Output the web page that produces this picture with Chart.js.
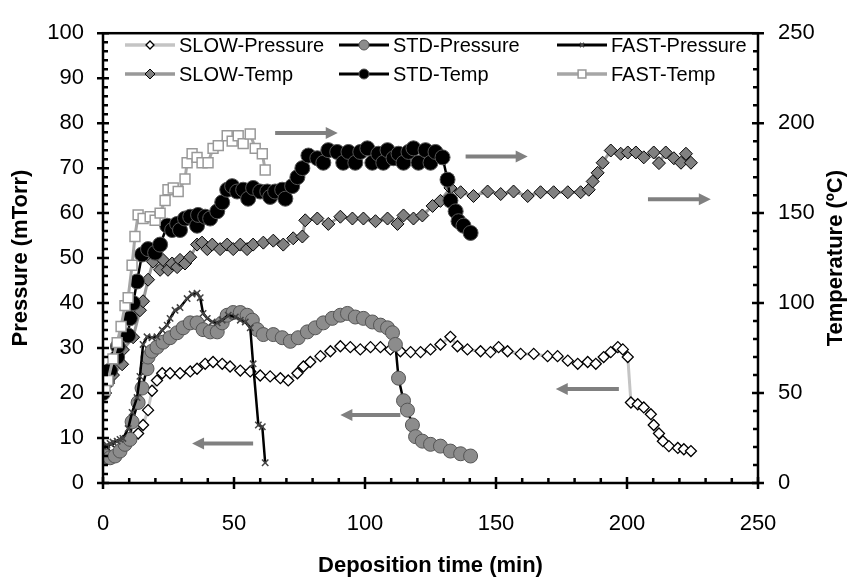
<!DOCTYPE html>
<html lang="en">
<head>
  <meta charset="UTF-8" />
  <title>Deposition pressure / temperature</title>
  <script src="https://cdn.jsdelivr.net/npm/chart.js"></script>
  <style>
    body { margin: 0; background: #fff; }
    #wrap { width: 852px; height: 580px; }
  </style>
</head>
<body>
<div id="wrap"><canvas id="depChart" width="852" height="580"></canvas></div>

<script>
  // SLOW run
  const slowPressT = [0, 1.9, 3.8, 5.7, 7.6, 10.3, 13.4, 15.3, 17.2, 18.7, 20.6, 22.6, 25.6, 29.4, 33.3, 35.9, 39, 42, 45.5, 48.5, 52.4, 56.2, 60, 63.8, 67.7, 70.7, 74.2, 76.5, 79.1, 83, 86.8, 90.6, 94.4, 98.2, 102.1, 105.9, 109.7, 113.5, 117.4, 121.2, 125, 128.8, 132.6, 135.3, 139.1, 144.1, 147.9, 151, 154.4, 159.4, 164.4, 169.7, 173.5, 177.4, 181.2, 185, 188.1, 191.1, 193.8, 196.5, 198.4, 200.3, 201.5, 204.1, 206.4, 209.1, 210.2, 212.2, 213.7, 216, 219.4, 221.7, 224.4];
  const slowPressV = [6.5, 7.1, 7.8, 8.4, 9.3, 10.1, 11, 12.9, 16.2, 20.5, 22.8, 24.4, 24.4, 24.4, 24.8, 25.4, 26.5, 26.9, 26.5, 25.9, 25, 24.8, 23.9, 23.7, 23.3, 22.8, 24.4, 25.9, 26.9, 28.2, 29.3, 30.4, 30.2, 29.7, 30.2, 30.2, 29.7, 29.3, 29.1, 29.1, 29.7, 30.8, 32.5, 30.4, 29.7, 29.3, 29.1, 30.2, 29.3, 28.7, 28.7, 28.2, 28.2, 27.2, 26.5, 26.9, 26.5, 28, 29.1, 30.2, 29.7, 28, 17.9, 17.5, 16.8, 15.3, 12.9, 11, 9.3, 8.2, 7.8, 7.5, 7.1];
  const slowTempT = [0.8, 1.9, 3.8, 7.3, 7.6, 11.5, 14.1, 15.3, 17.2, 19.1, 21.8, 22.9, 24.8, 26.4, 28.3, 29.4, 31.3, 33.3, 35.9, 37.8, 39.8, 41.7, 44.7, 47.4, 49.7, 52.4, 55, 57.3, 61.2, 65, 68.8, 72.6, 76.1, 77.2, 81.8, 86, 90.6, 95.2, 99.4, 104, 108.6, 112.4, 114.7, 118.5, 121.9, 125.8, 128.8, 132.6, 136.5, 141.4, 146.8, 151.8, 156.7, 162.1, 167, 172, 177.4, 182.3, 185.4, 186.9, 188.8, 190.7, 193.8, 197.6, 200.3, 203.4, 206.4, 210.2, 212.2, 214.8, 217.9, 220.6, 222.5, 224.4];
  const slowTempV = [50, 55.5, 60, 66, 74, 81, 96, 101, 113, 123, 118.5, 124, 118.5, 122, 120, 124, 122, 125.5, 132.5, 133.6, 130, 132.5, 130, 132.5, 130, 132.5, 130, 132.5, 133.6, 134.7, 132.5, 136, 137, 146, 147, 144, 148, 147, 147, 145.5, 147, 144, 148.7, 147, 148.7, 154, 156.8, 164, 161.6, 159.5, 162, 160.6, 162, 159.5, 161.6, 161.6, 161.6, 161.6, 163, 167.6, 172.4, 178, 184.8, 183, 183.7, 183.7, 181, 183.7, 177.8, 183.7, 180.5, 178, 183, 178];

  // STD run
  const stdPressT = [0, 0.8, 2.7, 4.6, 6.5, 8.4, 10.3, 11.1, 13.4, 14.9, 16.8, 17.2, 18.7, 20.6, 22.9, 25.6, 28.3, 30.6, 33.3, 35.9, 38.2, 40.9, 43.6, 45.5, 47.4, 49.7, 52.4, 55, 57, 58.9, 61.2, 65, 68.4, 71.5, 74.5, 78, 81, 84.1, 87.5, 90.6, 93.3, 96.3, 99.4, 102.8, 105.9, 108.6, 110.5, 111.6, 112.8, 114.7, 116.2, 118.1, 119.3, 121.9, 125, 128.8, 132.6, 136.5, 140.3];
  const stdPressV = [5.4, 6, 5.6, 6, 7.1, 8.6, 9.7, 13.6, 17.9, 21.1, 25.4, 28, 29.3, 30.2, 31.3, 32.3, 33.4, 34.5, 35.6, 35.6, 34.1, 33.6, 33.6, 35.6, 37.3, 37.9, 37.9, 37.3, 36.2, 34.1, 33, 33, 32.3, 31.5, 32.3, 33.6, 34.5, 35.6, 36.6, 37.3, 37.7, 36.9, 36.6, 35.8, 35.1, 34.5, 33.4, 30.8, 23.3, 18.3, 16.2, 12.9, 10.3, 9.3, 8.6, 8.2, 7.1, 6.5, 6];
  const stdTempT = [0, 1.5, 2.7, 5.4, 5.7, 9.6, 10.3, 11.5, 13, 14.9, 17.2, 19.9, 21.8, 24.5, 26.4, 28.3, 29.4, 31.3, 33.3, 35.9, 36.3, 39, 40.9, 43.6, 45.5, 47.4, 49.3, 51.2, 53.5, 55.4, 57.3, 60, 62.7, 63.8, 65.7, 68.4, 69.6, 72.2, 74.2, 76.1, 78.4, 81.8, 84.1, 86, 89.4, 91.7, 93.7, 96.3, 98.2, 100.9, 102.8, 105.1, 107, 108.6, 110.9, 112.8, 114.7, 116.6, 118.5, 120.4, 123.1, 125, 126.9, 129.6, 131.5, 132.6, 134.6, 135.7, 137.6, 140.3];
  const stdTempV = [50, 56.6, 62.5, 70, 76, 82, 91.6, 100, 112, 127, 130, 128, 132.5, 143, 140.6, 144, 140.6, 147, 148, 143, 149, 148, 147, 151, 156, 163, 165, 162, 163, 158, 164, 162, 162, 159, 162, 163, 158, 165, 170, 175, 182, 180.5, 178, 185, 184, 178, 184, 178, 184, 186, 178, 183, 178, 185, 180.5, 183, 178, 184, 186, 178, 185, 178, 184, 181, 168.6, 157, 151, 145.5, 143, 139];

  // FAST run
  const fastPressT = [0, 1.5, 2.7, 3.8, 5.4, 6.5, 7.6, 9.6, 11.1, 13, 14.1, 15.3, 16.8, 18.7, 20.6, 22.6, 24.5, 25.6, 27.5, 29.4, 32.1, 34, 35.9, 37.1, 38.2, 39.8, 41.7, 43.6, 45.5, 47.8, 50.5, 52.4, 54.3, 56.2, 57.3, 59.3, 60.8, 61.9];
  const fastPressV = [8.2, 8.4, 8.8, 9.1, 9.3, 9.7, 9.9, 12.1, 15.7, 19, 23.7, 30.8, 32.5, 32.3, 32.5, 34, 35.1, 36.6, 38.4, 39, 41, 42, 42.2, 41.2, 37.7, 36.6, 35.8, 35.6, 36.2, 37.3, 36.9, 36.2, 35.8, 34.5, 26.5, 12.9, 12.5, 4.5];
  const fastTempT = [0.8, 1.9, 3.8, 5.4, 6.9, 8.4, 9.6, 11.1, 12.2, 13.4, 15.3, 18, 19.9, 21.8, 23.7, 24.8, 26.8, 28.7, 31.3, 32.1, 34, 35.9, 37.8, 40.1, 42, 44, 47.4, 49.3, 51.6, 53.5, 56.2, 58.1, 60.8, 61.9];
  const fastTempV = [51.7, 57, 69, 78, 87, 98.6, 103, 121, 137, 149, 147, 148, 146, 150, 157, 163, 164, 162, 169, 178, 183, 181, 178, 178, 186, 187.5, 193, 190, 193, 188.6, 194, 186, 183, 174];

  const legendLabels = ['SLOW-Pressure', 'STD-Pressure', 'FAST-Pressure', 'SLOW-Temp', 'STD-Temp', 'FAST-Temp'];

  // grey arrows pointing to the axis of each curve (x from -> to, y on pressure scale)
  const arrows = [
    { x1: 65.7, x2: 89.6, y: 77.8 },
    { x1: 138.4, x2: 162.1, y: 72.6 },
    { x1: 208, x2: 232, y: 63.1 },
    { x1: 196.9, x2: 172.8, y: 20.9 },
    { x1: 113.5, x2: 90.6, y: 15.1 },
    { x1: 57.3, x2: 34, y: 8.8 }
  ];

  const FONT = "'Liberation Sans', Arial, sans-serif";
  const toPts = (t, v) => t.map((x, i) => ({ x: x, y: v[i] }));

  const datasets = [
    { label: 'FAST-Pressure', data: toPts(fastPressT, fastPressV), yAxisID: 'y',
      borderColor: '#000', borderWidth: 2.5, pointStyle: 'crossRot', pointRadius: 4.5,
      pointBorderColor: '#444', pointBackgroundColor: '#fff', pointBorderWidth: 1.5, legendR: 3 },
    { label: 'STD-Pressure', data: toPts(stdPressT, stdPressV), yAxisID: 'y',
      borderColor: '#000', borderWidth: 2.5, pointStyle: 'circle', pointRadius: 7,
      pointBorderColor: '#555', pointBackgroundColor: '#8c8c8c', pointBorderWidth: 1, legendR: 5 },
    { label: 'SLOW-Pressure', data: toPts(slowPressT, slowPressV), yAxisID: 'y',
      borderColor: '#c4c4c4', borderWidth: 3, pointStyle: 'rectRot', pointRadius: 5.5,
      pointBorderColor: '#000', pointBackgroundColor: '#fff', pointBorderWidth: 1.3, legendR: 4 },
    { label: 'FAST-Temp', data: toPts(fastTempT, fastTempV), yAxisID: 'y2',
      borderColor: '#a6a6a6', borderWidth: 3, pointStyle: 'rect', pointRadius: 7,
      pointBorderColor: '#999', pointBackgroundColor: '#fff', pointBorderWidth: 1.5, legendR: 5.5 },
    { label: 'STD-Temp', data: toPts(stdTempT, stdTempV), yAxisID: 'y2',
      borderColor: '#000', borderWidth: 2.5, pointStyle: 'circle', pointRadius: 7.5,
      pointBorderColor: '#555', pointBackgroundColor: '#000', pointBorderWidth: 1, legendR: 5 },
    { label: 'SLOW-Temp', data: toPts(slowTempT, slowTempV), yAxisID: 'y2',
      borderColor: '#999', borderWidth: 3, pointStyle: 'rectRot', pointRadius: 6.5,
      pointBorderColor: '#000', pointBackgroundColor: '#808080', pointBorderWidth: 1, legendR: 5 }
  ];

  function drawMarker(ctx, ds, x, y) {
    ctx.save();
    ctx.fillStyle = ds.pointBackgroundColor;
    ctx.strokeStyle = ds.pointBorderColor;
    ctx.lineWidth = ds.pointBorderWidth;
    Chart.helpers.drawPoint(ctx, { pointStyle: ds.pointStyle, radius: ds.legendR, borderWidth: ds.pointBorderWidth, rotation: 0 }, x, y);
    ctx.restore();
  }

  // frame, ticks, arrows, legend, right title
  const decorPlugin = {
    id: 'decor',
    afterDatasetsDraw(chart) {
      const { ctx, chartArea: a, scales } = chart;
      ctx.save();

      // arrows
      ctx.strokeStyle = '#808080';
      ctx.fillStyle = '#808080';
      ctx.lineWidth = 4;
      arrows.forEach(ar => {
        const xa = scales.x.getPixelForValue(ar.x1);
        const xb = scales.x.getPixelForValue(ar.x2);
        const yy = scales.y.getPixelForValue(ar.y);
        const dir = xb > xa ? 1 : -1;
        ctx.beginPath();
        ctx.moveTo(xa, yy);
        ctx.lineTo(xb - dir * 10, yy);
        ctx.stroke();
        ctx.beginPath();
        ctx.moveTo(xb, yy);
        ctx.lineTo(xb - dir * 12, yy - 6);
        ctx.lineTo(xb - dir * 12, yy + 6);
        ctx.closePath();
        ctx.fill();
      });

      // frame
      ctx.strokeStyle = '#000';
      ctx.lineWidth = 2.5;
      ctx.strokeRect(a.left, a.top, a.right - a.left, a.bottom - a.top);

      ctx.beginPath();
      for (let v = 0; v <= 100; v += 2) {
        const py = scales.y.getPixelForValue(v);
        if (v % 10 === 0) { ctx.moveTo(a.left - 6, py); ctx.lineTo(a.left + 6, py); }
        else { ctx.moveTo(a.left, py); ctx.lineTo(a.left + 5, py); }
      }
      for (let v = 0; v <= 250; v += 10) {
        const py = scales.y2.getPixelForValue(v);
        if (v % 50 === 0) { ctx.moveTo(a.right - 6, py); ctx.lineTo(a.right + 6, py); }
        else { ctx.moveTo(a.right - 5, py); ctx.lineTo(a.right, py); }
        const px = scales.x.getPixelForValue(v);
        if (v % 50 === 0) { ctx.moveTo(px, a.bottom - 6); ctx.lineTo(px, a.bottom + 6); }
        else { ctx.moveTo(px, a.bottom - 5); ctx.lineTo(px, a.bottom); }
      }
      ctx.stroke();

      // legend, 3 columns x 2 rows
      const colX = [125, 339, 557];
      const rowY = [45, 74];
      ctx.font = '20px ' + FONT;
      ctx.textBaseline = 'middle';
      ctx.textAlign = 'left';
      legendLabels.forEach((lab, i) => {
        const ds = chart.data.datasets.find(d => d.label === lab);
        const x0 = colX[i % 3];
        const y0 = rowY[Math.floor(i / 3)];
        ctx.strokeStyle = ds.borderColor;
        ctx.lineWidth = ds.borderWidth + 0.5;
        ctx.beginPath();
        ctx.moveTo(x0, y0);
        ctx.lineTo(x0 + 50, y0);
        ctx.stroke();
        drawMarker(ctx, ds, x0 + 25, y0);
        ctx.fillStyle = '#000';
        ctx.fillText(lab, x0 + 54, y0 + 1);
      });

      // right axis title, reading bottom to top
      ctx.save();
      ctx.translate(836, (a.top + a.bottom) / 2);
      ctx.rotate(-Math.PI / 2);
      ctx.font = 'bold 22px ' + FONT;
      ctx.textAlign = 'center';
      ctx.textBaseline = 'middle';
      ctx.fillStyle = '#000';
      ctx.fillText('Temperature (ºC)', 0, 0);
      ctx.restore();

      ctx.restore();
    }
  };

  const tickFont = { size: 22, family: FONT };
  const titleFont = { size: 22, weight: 'bold', family: FONT };

  new Chart(document.getElementById('depChart'), {
    type: 'line',
    data: { datasets },
    plugins: [decorPlugin],
    options: {
      responsive: false,
      animation: false,
      layout: { padding: { top: 19 } },
      elements: { line: { tension: 0 } },
      plugins: { legend: { display: false }, tooltip: { enabled: false } },
      scales: {
        x: {
          type: 'linear', min: 0, max: 250,
          grid: { display: false, drawTicks: false }, border: { display: false },
          ticks: { stepSize: 50, color: '#000', font: tickFont, padding: 28, maxRotation: 0 },
          title: { display: true, text: 'Deposition time (min)', color: '#000', font: titleFont, padding: { top: 0, bottom: 1 } },
          afterFit: s => { s.height = 97; }
        },
        y: {
          position: 'left', min: 0, max: 100,
          grid: { display: false, drawTicks: false }, border: { display: false },
          ticks: { stepSize: 10, color: '#000', font: tickFont, padding: 19 },
          title: { display: true, text: 'Pressure (mTorr)', color: '#000', font: titleFont, padding: { top: 8, bottom: 0 } },
          afterFit: s => { s.width = 103; }
        },
        y2: {
          position: 'right', min: 0, max: 250,
          grid: { display: false, drawTicks: false }, border: { display: false },
          ticks: { stepSize: 50, color: '#000', font: tickFont, padding: 20 },
          afterFit: s => { s.width = 94; }
        }
      }
    }
  });
</script>
</body>
</html>
